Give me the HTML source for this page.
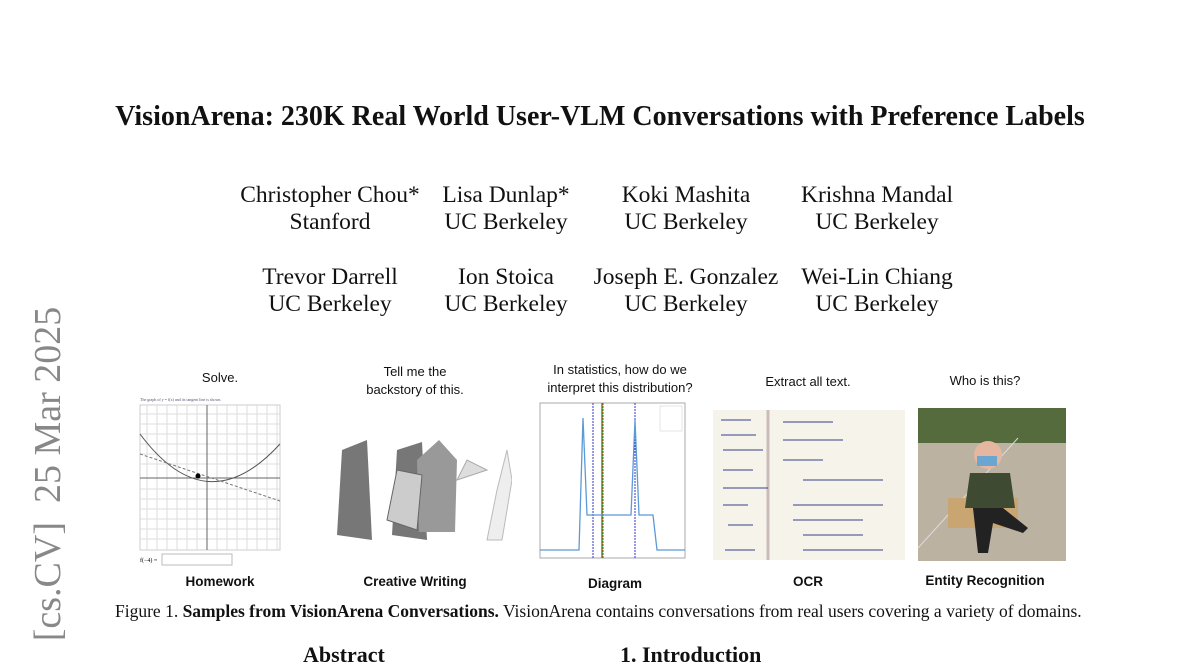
<!DOCTYPE html>
<html><head><meta charset="utf-8"><style>
body{margin:0;width:1200px;height:648px;overflow:hidden;background:#fff;position:relative;font-family:"Liberation Serif",serif;color:#111}
.a{position:absolute}
.t{left:0;width:1200px;top:101px;text-align:center;font-weight:bold;font-size:28px;white-space:nowrap}
.au{position:absolute;text-align:center;font-size:23.5px;line-height:27px;width:240px}
.s{font-family:"Liberation Sans",sans-serif;font-size:13px;text-align:center;position:absolute;line-height:18px}
.b{font-family:"Liberation Sans",sans-serif;font-weight:bold;font-size:13.5px;text-align:center;position:absolute}
</style></head><body>
<div class="a t">VisionArena: 230K Real World User-VLM Conversations with Preference Labels</div>
<div class="au" style="left:210px;top:182px">Christopher Chou*<br>Stanford</div>
<div class="au" style="left:386px;top:182px">Lisa Dunlap*<br>UC Berkeley</div>
<div class="au" style="left:566px;top:182px">Koki Mashita<br>UC Berkeley</div>
<div class="au" style="left:757px;top:182px">Krishna Mandal<br>UC Berkeley</div>
<div class="au" style="left:210px;top:264px">Trevor Darrell<br>UC Berkeley</div>
<div class="au" style="left:386px;top:264px">Ion Stoica<br>UC Berkeley</div>
<div class="au" style="left:566px;top:264px">Joseph E. Gonzalez<br>UC Berkeley</div>
<div class="au" style="left:757px;top:264px">Wei-Lin Chiang<br>UC Berkeley</div>
<div class="a" style="left:48px;top:474px;transform:translate(-50%,-50%) rotate(-90deg);white-space:nowrap;font-size:38px;color:#888">[cs.CV]&nbsp;&nbsp;25 Mar 2025</div>

<div class="s" style="left:150px;width:140px;top:369px">Solve.</div>
<div class="s" style="left:330px;width:170px;top:363px">Tell me the<br>backstory of this.</div>
<div class="s" style="left:520px;width:200px;top:361px">In statistics, how do we<br>interpret this distribution?</div>
<div class="s" style="left:718px;width:180px;top:373px">Extract all text.</div>
<div class="s" style="left:900px;width:170px;top:372px">Who is this?</div>

<svg class="a" style="left:137px;top:394px" width="150" height="175">
<rect x="3" y="11" width="140" height="145" fill="#fff" stroke="#ccc"/>
<g stroke="#ddd" stroke-width="1">
<path d="M10 11V156M20 11V156M30 11V156M40 11V156M50 11V156M60 11V156M80 11V156M90 11V156M100 11V156M110 11V156M120 11V156M130 11V156M140 11V156"/>
<path d="M3 20H143M3 30H143M3 40H143M3 50H143M3 60H143M3 70H143M3 95H143M3 105H143M3 115H143M3 125H143M3 135H143M3 145H143"/>
</g>
<path d="M70 11V156M3 84H143" stroke="#666"/>
<path d="M3 40 Q70 130 143 50" fill="none" stroke="#555"/>
<path d="M3 60 L143 107" stroke="#777" stroke-dasharray="3 2"/>
<circle cx="61" cy="82" r="2.5" fill="#000"/>
<text x="3" y="7" font-size="4" fill="#557">The graph of y = f(x) and its tangent line is shown.</text>
<rect x="25" y="160" width="70" height="11" fill="#fff" stroke="#bbb"/>
<text x="3" y="168" font-size="6">f(−4) =</text>
</svg>

<svg class="a" style="left:327px;top:420px" width="185" height="140">
<rect width="185" height="140" fill="#fff"/>
<path d="M10 115L15 30L40 20L45 120ZM65 115L70 30L95 22L100 120Z" fill="#777"/>
<path d="M92 112L90 40L112 20L130 40L128 112Z" fill="#999"/>
<path d="M70 50L60 100L90 110L95 55Z" fill="#ccc" stroke="#666"/>
<path d="M130 60L140 40L160 50Z" fill="#ddd" stroke="#aaa"/>
<path d="M160 120L170 70L180 30L185 60L175 120Z" fill="#eee" stroke="#bbb"/>
</svg>

<svg class="a" style="left:535px;top:400px" width="152" height="170">
<rect x="5" y="3" width="145" height="155" fill="#fff" stroke="#aaa"/>
<path d="M67 3V158" stroke="#2a2" stroke-width="1.5"/><path d="M68 3V158" stroke="#d22" stroke-dasharray="2 1"/>
<path d="M58 3V158M100 3V158" stroke="#33c" stroke-dasharray="2 1"/>
<path d="M5 150H44L48 18L52 115H96L100 20L104 115H118L122 150H150" fill="none" stroke="#5a9ad6" stroke-width="1.3"/>
<rect x="125" y="6" width="22" height="25" fill="#fff" stroke="#ccc" stroke-width=".5"/>
</svg>

<svg class="a" style="left:713px;top:410px" width="192" height="150">
<rect width="192" height="150" fill="#f6f3ea"/>
<path d="M55 0V150" stroke="#cbb" stroke-width="3"/>
<g stroke="#34408a" stroke-width="1" fill="none">
<path d="M8 10h30M8 25h35M10 40h40M10 60h30M10 78h45M10 95h25M15 115h25M12 140h30"/>
<path d="M70 12h50M70 30h60M70 50h40M90 70h80M80 95h90M80 110h70M90 125h60M90 140h80M100 155h50"/>
</g>
</svg>

<svg class="a" style="left:918px;top:408px" width="148" height="153">
<rect width="148" height="153" fill="#bbb2a2"/>
<rect width="148" height="35" fill="#556b3e"/>
<path d="M0 140L100 30" stroke="#ddd" stroke-width="1"/>
<rect x="30" y="90" width="70" height="30" fill="#c9a571"/>
<circle cx="70" cy="47" r="14" fill="#e6b7a0"/>
<rect x="59" y="48" width="20" height="10" fill="#6aa6d0"/>
<path d="M52 65h40l5 35h-50z" fill="#3f4a32"/>
<path d="M55 100h30l25 20l-5 5l-30-10l-5 30h-10z" fill="#222"/>
</svg>

<div class="b" style="left:150px;width:140px;top:574px">Homework</div>
<div class="b" style="left:330px;width:170px;top:574px">Creative Writing</div>
<div class="b" style="left:540px;width:150px;top:576px">Diagram</div>
<div class="b" style="left:718px;width:180px;top:574px">OCR</div>
<div class="b" style="left:900px;width:170px;top:573px">Entity Recognition</div>

<div class="a" style="left:115px;top:601px;font-size:17.5px;white-space:nowrap">Figure 1. <b>Samples from VisionArena Conversations.</b> VisionArena contains conversations from real users covering a variety of domains.</div>
<div class="a" style="left:303px;top:642px;font-size:22px;font-weight:bold">Abstract</div>
<div class="a" style="left:620px;top:642px;font-size:22px;font-weight:bold">1. Introduction</div>
</body></html>
